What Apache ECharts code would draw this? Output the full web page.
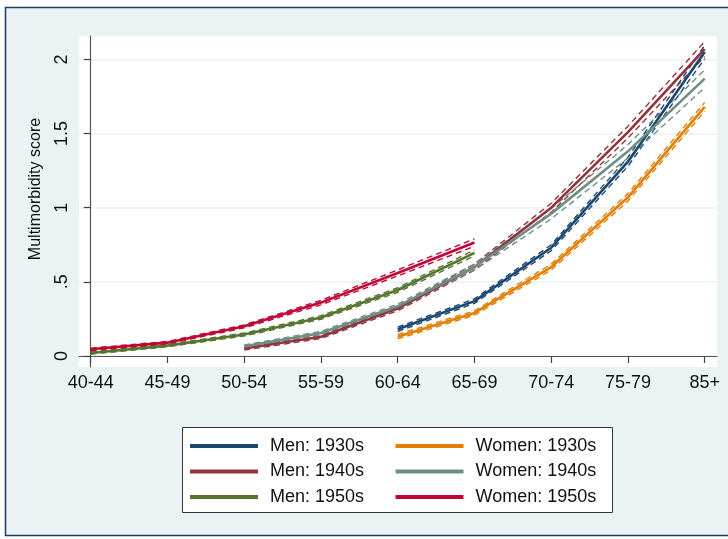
<!DOCTYPE html>
<html>
<head>
<meta charset="utf-8">
<script src="https://cdn.jsdelivr.net/npm/echarts@6/dist/echarts.min.js"></script>
<style>
  html, body { margin: 0; padding: 0; background: #ffffff; }
  #chart { width: 728px; height: 539px; }
</style>
</head>
<body>
<div id="chart"></div>
<script>
// Age groups along the x axis
const ageGroups = ['40-44', '45-49', '50-54', '55-59', '60-64', '65-69', '70-74', '75-79', '85+'];
const yTicks = [0, 0.5, 1, 1.5, 2];

// Predicted multimorbidity score by birth cohort (null = age group not observed)
const men1930 = [null, null, null, null, 0.18, 0.37, 0.73, 1.31, 2.05];
const men1930Lo = [null, null, null, null, 0.165, 0.355, 0.71, 1.28, 2.005];
const men1930Hi = [null, null, null, null, 0.195, 0.385, 0.75, 1.34, 2.095];

const women1930 = [null, null, null, null, 0.13, 0.29, 0.60, 1.07, 1.68];
const women1930Lo = [null, null, null, null, 0.115, 0.275, 0.58, 1.045, 1.65];
const women1930Hi = [null, null, null, null, 0.145, 0.305, 0.62, 1.095, 1.71];

const men1940 = [null, null, 0.05, 0.13, 0.32, 0.60, 1.00, 1.51, 2.07];
const men1940Lo = [null, null, 0.04, 0.118, 0.305, 0.58, 0.97, 1.47, 2.02];
const men1940Hi = [null, null, 0.06, 0.142, 0.335, 0.62, 1.03, 1.55, 2.12];

const women1940 = [null, null, 0.065, 0.155, 0.335, 0.60, 0.96, 1.38, 1.87];
const women1940Lo = [null, null, 0.055, 0.143, 0.32, 0.58, 0.925, 1.335, 1.81];
const women1940Hi = [null, null, 0.075, 0.167, 0.35, 0.62, 0.995, 1.425, 1.93];

const men1950 = [0.02, 0.07, 0.145, 0.26, 0.445, 0.695, null, null, null];
const men1950Lo = [0.012, 0.062, 0.135, 0.248, 0.43, 0.675, null, null, null];
const men1950Hi = [0.028, 0.078, 0.155, 0.272, 0.46, 0.715, null, null, null];

const women1950 = [0.045, 0.09, 0.20, 0.36, 0.56, 0.765, null, null, null];
const women1950Lo = [0.037, 0.082, 0.19, 0.345, 0.54, 0.74, null, null, null];
const women1950Hi = [0.053, 0.098, 0.21, 0.375, 0.58, 0.79, null, null, null];

const cohorts = [
  { name: 'Men: 1930s',   color: '#1a476f', mid: men1930,   lo: men1930Lo,   hi: men1930Hi },
  { name: 'Men: 1940s',   color: '#90353b', mid: men1940,   lo: men1940Lo,   hi: men1940Hi },
  { name: 'Men: 1950s',   color: '#55752f', mid: men1950,   lo: men1950Lo,   hi: men1950Hi },
  { name: 'Women: 1930s', color: '#e37e00', mid: women1930, lo: women1930Lo, hi: women1930Hi },
  { name: 'Women: 1940s', color: '#6e8e84', mid: women1940, lo: women1940Lo, hi: women1940Hi },
  { name: 'Women: 1950s', color: '#c10534', mid: women1950, lo: women1950Lo, hi: women1950Hi }
];

const toPoints = arr => arr.map((v, i) => [i, v]).filter(p => p[1] !== null);

const series = [];
// Confidence bounds (dashed) first, then the estimates on top
cohorts.forEach(c => {
  ['lo', 'hi'].forEach(k => {
    series.push({
      type: 'line', name: c.name + ' ' + k, data: toPoints(c[k]),
      showSymbol: false, silent: true, z: 2,
      lineStyle: { color: c.color, width: 1.4, type: [6, 4] }
    });
  });
});
cohorts.forEach(c => {
  series.push({
    type: 'line', name: c.name, data: toPoints(c.mid),
    showSymbol: false, z: 3, color: c.color,
    lineStyle: { color: c.color, width: 2.6 }
  });
});

const FONT = 'Liberation Sans, Arial, sans-serif';
const legendCommon = {
  orient: 'vertical', icon: 'rect', itemWidth: 68, itemHeight: 4, itemGap: 7.5,
  padding: 0,
  textStyle: { fontFamily: FONT, fontSize: 18, color: '#111', padding: [0, 0, 0, 7] },
  top: 437
};

const chart = echarts.init(document.getElementById('chart'), null, { renderer: 'canvas' });
chart.setOption({
  animation: false,
  backgroundColor: '#ffffff',
  graphic: [
    { type: 'rect', z: -10, shape: { x: 5.5, y: 7.5, width: 740, height: 528 },
      style: { fill: '#eaf2f3', stroke: '#1a3a6b', lineWidth: 1.5 } },
    { type: 'rect', z: -5, shape: { x: 182.5, y: 427.5, width: 430, height: 85 },
      style: { fill: '#ffffff', stroke: '#333333', lineWidth: 1 } }
  ],
  grid: {
    left: 79, right: 11, top: 36, bottom: 172,
    show: true, backgroundColor: '#ffffff', borderWidth: 0
  },
  legend: [
    Object.assign({}, legendCommon, { left: 190, data: cohorts.slice(0, 3).map(c => c.name) }),
    Object.assign({}, legendCommon, { left: 395.5, data: cohorts.slice(3).map(c => c.name) })
  ],
  xAxis: {
    type: 'value', min: -0.153, max: 8.16,
    axisLine: { show: true, lineStyle: { color: '#555', width: 1.2 } },
    axisTick: { show: true, length: 7, customValues: ageGroups.map((_, i) => i),
      lineStyle: { color: '#444', width: 1.2 } },
    axisLabel: { customValues: ageGroups.map((_, i) => i), margin: 7,
      formatter: v => ageGroups[Math.round(v)],
      fontFamily: FONT, fontSize: 18, color: '#111' },
    splitLine: { show: false }
  },
  yAxis: {
    type: 'value', min: -0.0742, max: 2.1578,
    name: 'Multimorbidity score', nameLocation: 'middle', nameGap: 35, nameRotate: 90,
    nameTextStyle: { fontFamily: FONT, fontSize: 16, color: '#111', padding: [0, 0, 0, 25] },
    axisLine: { show: true, lineStyle: { color: '#555', width: 1.2 } },
    axisTick: { show: true, length: 7, customValues: yTicks, lineStyle: { color: '#444', width: 1.2 } },
    axisLabel: { customValues: yTicks, rotate: 90, margin: 8,
      formatter: v => (v === 0 ? '0' : String(v).replace(/^0\./, '.')),
      fontFamily: FONT, fontSize: 18, color: '#111' },
    splitLine: { show: true, lineStyle: { color: '#eaf2f3', width: 1.5 } }
  },
  series: series
});
</script>
</body>
</html>
